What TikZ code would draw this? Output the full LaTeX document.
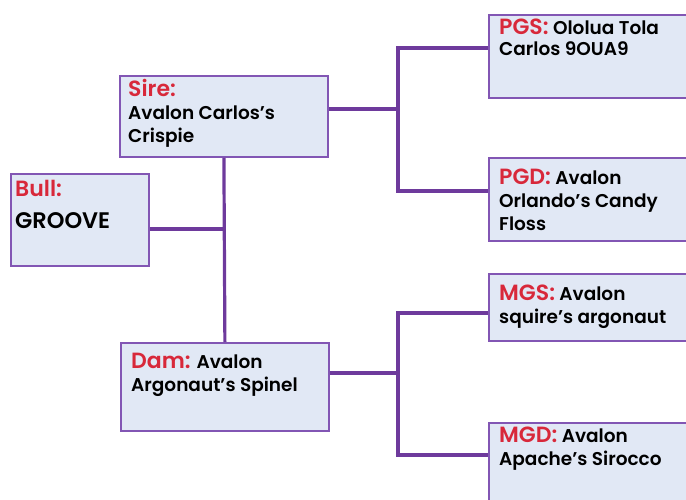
\documentclass[tikz,border=0pt]{standalone}
\usepackage{fontspec}
\setmainfont{Poppins}[BoldFont={Poppins SemiBold}]
\usepackage{xcolor}
\definecolor{famFill}{RGB}{225,232,245}
\definecolor{famEdge}{RGB}{130,86,180}
\definecolor{famLine}{RGB}{110,58,156}
\definecolor{famRed}{RGB}{216,40,58}
\tikzset{
    famBox/.style={rectangle,draw=famEdge,line width=1.8pt,fill=famFill,anchor=north west,inner sep=0pt},
    txt/.style={anchor=north west,inner sep=0pt,align=left,font=\fontsize{18.5}{23}\selectfont\bfseries},
    link/.style={draw=famLine,line width=3.2pt}
}
\newcommand{\role}[1]{\rule{0pt}{17pt}{\color{famRed}\fontsize{22}{23}\selectfont #1}}

\begin{document}
\begin{tikzpicture}[x=1pt,y=-1pt]
    \useasboundingbox (0,0) rectangle (686,500);
    \clip (0,0) rectangle (686,500);
    % boxes
    \node[famBox,minimum width=138,minimum height=92] (bull) at (10,173)  {};
    \node[famBox,minimum width=208,minimum height=81] (sire) at (119,75)  {};
    \node[famBox,minimum width=208,minimum height=88] (dam)  at (120,342) {};
    \node[famBox,minimum width=220,minimum height=83] (pgs)  at (488,14)  {};
    \node[famBox,minimum width=220,minimum height=83] (pgd)  at (488,157) {};
    \node[famBox,minimum width=220,minimum height=67] (mgs)  at (488,273) {};
    \node[famBox,minimum width=220,minimum height=100] (mgd) at (488,422) {};
    % texts
    \node[txt] (bullTxt) at (15,179)  {\role{Bull:}\\[9pt]{\fontsize{22.5}{23}\selectfont GROOVE}};
    \node[txt] (sireTxt) at (128,79)  {\role{Sire:}\\Avalon Carlos’s\\Crispie};
    \node[txt] (damTxt)  at (131,351) {\role{Dam:} Avalon\\Argonaut’s Spinel};
    \node[txt] (pgsTxt)  at (499,17)  {\role{PGS:} Ololua Tola\\[-2pt]Carlos 9OUA9};
    \node[txt] (pgdTxt)  at (499,167) {\role{PGD:} Avalon\\Orlando’s Candy\\Floss};
    \node[txt] (mgsTxt)  at (499,283) {\role{MGS:} Avalon\\squire’s argonaut};
    \node[txt] (mgdTxt)  at (499,425) {\role{MGD:} Avalon\\Apache’s Sirocco};
    % junctions
    \coordinate (bj)   at (224,229);
    \coordinate (sj)   at (398,109);
    \coordinate (pgsj) at (398,48);
    \coordinate (pgdj) at (398,191);
    \coordinate (dj)   at (398,373);
    \coordinate (mgsj) at (398,313);
    \coordinate (mgdj) at (398,455);
    % connectors
    \draw[link] (sire.south) -- (dam.north);
    \draw[link] (bull.east |- bj) -- (bj);
    \draw[link] (sire.east |- sj) -- (sj);
    \draw[link] (pgs.west |- pgsj) -- (pgsj) -- (pgdj) -- (pgd.west |- pgdj);
    \draw[link] (dam.east |- dj) -- (dj);
    \draw[link] (mgs.west |- mgsj) -- (mgsj) -- (mgdj) -- (mgd.west |- mgdj);
\end{tikzpicture}
\end{document}
